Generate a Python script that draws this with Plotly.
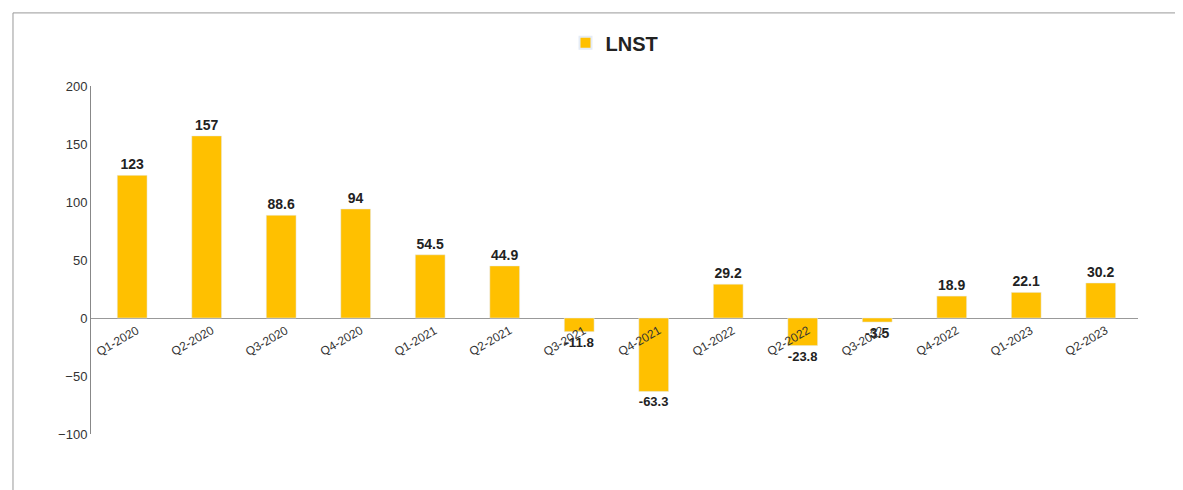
import plotly.graph_objects as go

categories = ["Q1-2020","Q2-2020","Q3-2020","Q4-2020","Q1-2021","Q2-2021","Q3-2021",
              "Q4-2021","Q1-2022","Q2-2022","Q3-2022","Q4-2022","Q1-2023","Q2-2023"]
values = [123, 157, 88.6, 94, 54.5, 44.9, -11.8, -63.3, 29.2, -23.8, -3.5, 18.9, 22.1, 30.2]
labels = ["123","157","88.6","94","54.5","44.9","-11.8","-63.3","29.2","-23.8","-3.5","18.9","22.1","30.2"]
yticks = [-100, -50, 0, 50, 100, 150, 200]

fig = go.Figure(go.Bar(
    x=categories, y=values, name="<b>LNST</b>", marker_color="#FFC000", width=0.4,
    text=labels, texttemplate="<b>%{text}</b>", textposition="outside", cliponaxis=False,
    textfont=dict(family="Liberation Sans, Arial", size=14, color="#222"),
))
for c in categories:
    fig.add_annotation(x=c, y=0, text=c, showarrow=False, textangle=-30,
                       xanchor="right", yanchor="top", xshift=12, yshift=-2,
                       font=dict(family="Liberation Sans, Arial", size=12, color="#333"))
fig.update_layout(
    width=1183, height=490, paper_bgcolor="white", plot_bgcolor="white",
    margin=dict(l=83, r=53, t=78, b=64, autoexpand=False),
    showlegend=True,
    legend=dict(orientation="h", x=0.5, xanchor="center", y=1.124, yanchor="middle",
                font=dict(family="Liberation Sans, Arial", size=20, color="#222"),
                itemsizing="constant"),
    font=dict(family="Liberation Sans, Arial"),
    uniformtext=dict(minsize=14),
    shapes=[dict(type="rect", xref="paper", yref="paper", x0=-0.0745, x1=1.045, y0=-0.17, y1=1.21,
                 line=dict(color="#999", width=1))],
)
fig.update_xaxes(showticklabels=False, showgrid=False, showline=False, ticks="")
fig.update_yaxes(range=[-100, 200], tickvals=yticks, showgrid=False, showline=True,
                 linecolor="#888", zeroline=True, zerolinecolor="#999", zerolinewidth=1,
                 tickfont=dict(size=13, color="#333"), ticks="")
fig.write_html("out.html")
